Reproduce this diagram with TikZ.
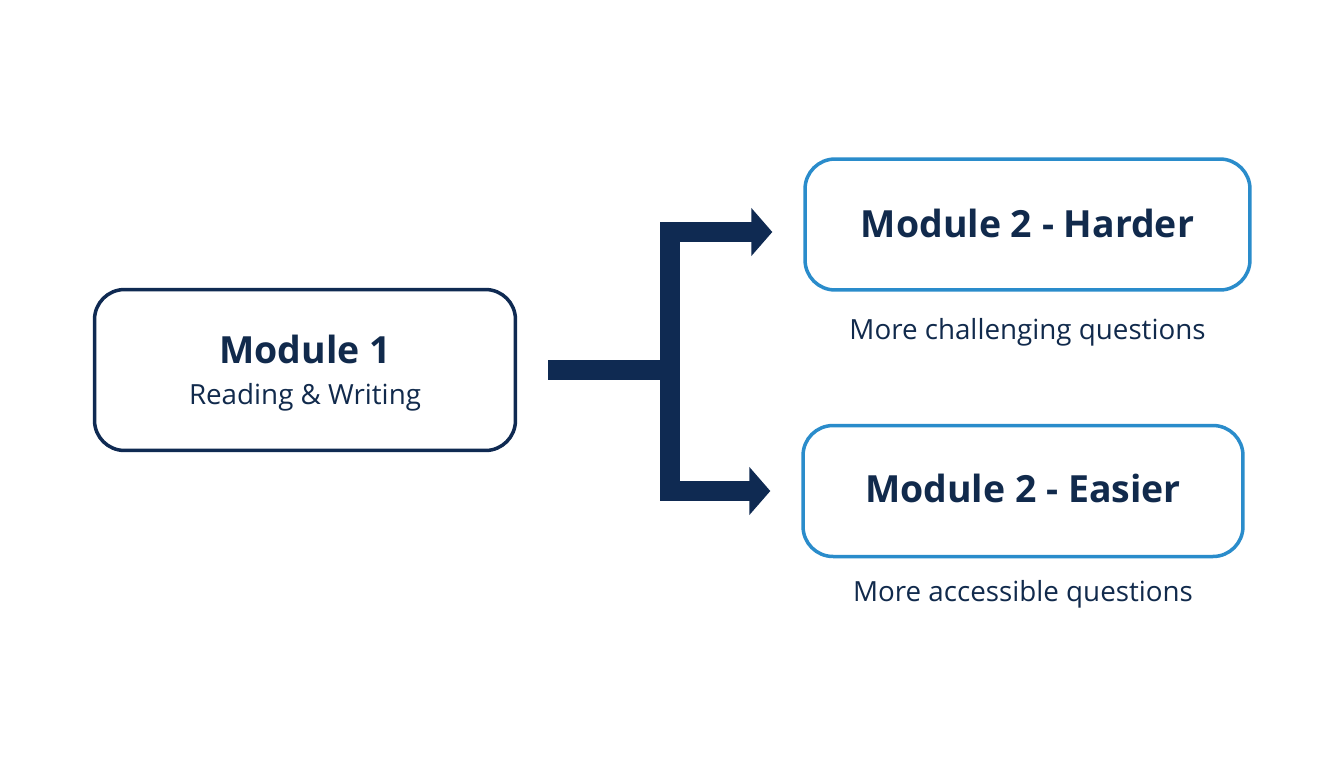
\documentclass[tikz,border=0pt]{standalone}
\usepackage{fontspec}
\setmainfont{Open Sans}
\usetikzlibrary{arrows.meta,positioning,calc}

\definecolor{navy}{HTML}{0F2A52}
\definecolor{skyline}{HTML}{2A8CCB}
\definecolor{inktext}{HTML}{112A4C}

\begin{document}
\begin{tikzpicture}[x=0.02cm,y=-0.02cm,
  box/.style={draw, rounded corners=0.6cm, line width=0.07cm, fill=white},
  firstbox/.style={box, draw=navy, minimum width=8.42cm, minimum height=3.22cm},
  nextbox/.style={box, draw=skyline, minimum height=2.62cm},
  title/.style={font=\bfseries\fontsize{21.3}{25}\selectfont, text=inktext, anchor=base, inner sep=0},
  sub/.style={font=\fontsize{15.8}{18}\selectfont, text=inktext, anchor=base, inner sep=0},
  bar/.style={line width=0.4cm, draw=navy},
  tip/.style={-{Triangle[length=0.42cm,width=0.94cm]}}]

  % page size, white background
  \fill[white] (0,0) rectangle (1344,768);
  \useasboundingbox (0,0) rectangle (1344,768);

  % the three modules
  \node[firstbox] (m1) at (305,370) {};
  \node[nextbox, minimum width=8.9cm] (hard) at (1027.5,224.5) {};
  \node[nextbox, minimum width=8.8cm] (easy) at (1023,491) {};

  % box texts
  \node[title] (m1title) at ([yshift=0.14cm]m1.center) {Module 1};
  \node[sub] (m1sub) at ([yshift=-0.68cm]m1.center) {Reading \& Writing};
  \node[title] (hardtitle) at ([yshift=-0.25cm]hard.center) {Module 2 - Harder};
  \node[title] (easytitle) at ([yshift=-0.22cm]easy.center) {Module 2 - Easier};

  % notes under the boxes
  \node[sub] (hardnote) at ([yshift=-0.96cm]hard.south) {More challenging questions};
  \node[sub] (easynote) at ([yshift=-0.86cm]easy.south) {More accessible questions};

  % branching connector
  \coordinate (split) at (670,370);
  \draw[bar] ([xshift=0.62cm]m1.east) -- (split);
  \draw[bar,tip] (split) |- ([xshift=-0.62cm,yshift=-0.15cm]hard.west);
  \draw[bar,tip] (split) |- ([xshift=-0.62cm]easy.west);
\end{tikzpicture}
\end{document}
